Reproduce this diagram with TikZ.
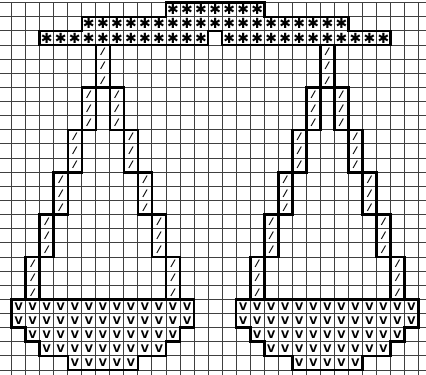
\documentclass[tikz,border=0pt]{standalone}
\usepackage{fontspec}
\usepackage{tikz}
\newfontfamily\chartfont{DejaVu Sans}

\begin{document}
\begin{tikzpicture}[x=14.03pt, y=-14.13pt,
        gridline/.style={line width=1pt, black!75},
        outline/.style={line width=2.6pt, black, line join=miter},
        hangerstar/.style={inner sep=0pt, font=\chartfont\bfseries\fontsize{14}{14}\selectfont},
        strand/.style={inner sep=0pt, rotate=-12, font=\chartfont\bfseries\fontsize{10}{10}\selectfont},
        vee/.style={inner sep=0pt, font=\chartfont\bfseries\fontsize{10.5}{10.5}\selectfont}]
        \clip (-0.834,-0.19) rectangle (29.53,26.28);
        \foreach \c in {-1,...,30} \draw[gridline] (\c,0) -- (\c,27);
        \foreach \r in {0,...,27} \draw[gridline] (-1,\r) -- (31,\r);
        % hanger
        \draw[outline] (11,0) -- (18,0) -- (18,1) -- (24,1) -- (24,2) -- (27,2) -- (27,3) -- (15,3) -- (15,2)
                -- (14,2) -- (14,3) -- (2,3) -- (2,2) -- (5,2) -- (5,1) -- (11,1) -- cycle;
        \foreach \r/\from/\to in {0/11/17, 1/5/23, 2/2/13, 2/15/26}
                \foreach \c in {\from,...,\to}
                        \node[hangerstar] (star-\c-\r) at (\c+0.5,\r+0.5) {✱};
        % two triangles
        \foreach \o in {0,16} {
        \begin{scope}[shift={(\o,0)}]
                \draw[outline] (6,3) rectangle (7,6);
                \foreach \r in {3,4,5} {
                        \pgfmathtruncatemacro\colM{\o+6}
                        \node[strand] (strand-\colM-\r) at (6.5,\r+0.5) {/};
                }
                \foreach \k in {1,...,5} {
                        \draw[outline] (6-\k,3*\k+3) rectangle (7-\k,3*\k+6);
                        \draw[outline] (6+\k,3*\k+3) rectangle (7+\k,3*\k+6);
                        \foreach \i in {3,4,5} {
                                \pgfmathtruncatemacro\r{3*\k+\i}
                                \pgfmathtruncatemacro\colL{\o+6-\k}
                                \pgfmathtruncatemacro\colR{\o+6+\k}
                                \node[strand] (strand-\colL-\r) at (6.5-\k,\r+0.5) {/};
                                \node[strand] (strand-\colR-\r) at (6.5+\k,\r+0.5) {/};
                        }
                }
                \draw[outline] (0,21) -- (13,21) -- (13,23) -- (12,23) -- (12,24) -- (11,24) -- (11,25) -- (9,25)
                        -- (9,26) -- (4,26) -- (4,25) -- (2,25) -- (2,24) -- (1,24) -- (1,23) -- (0,23) -- cycle;
                \foreach \r/\from/\to in {21/0/12, 22/0/12, 23/1/11, 24/2/10, 25/4/8}
                        \foreach \c in {\from,...,\to} {
                                \pgfmathtruncatemacro\colV{\o+\c}
                                \node[vee] (vee-\colV-\r) at (\c+0.5,\r+0.5) {V};
                        }
        \end{scope}
        }
\end{tikzpicture}
\end{document}
